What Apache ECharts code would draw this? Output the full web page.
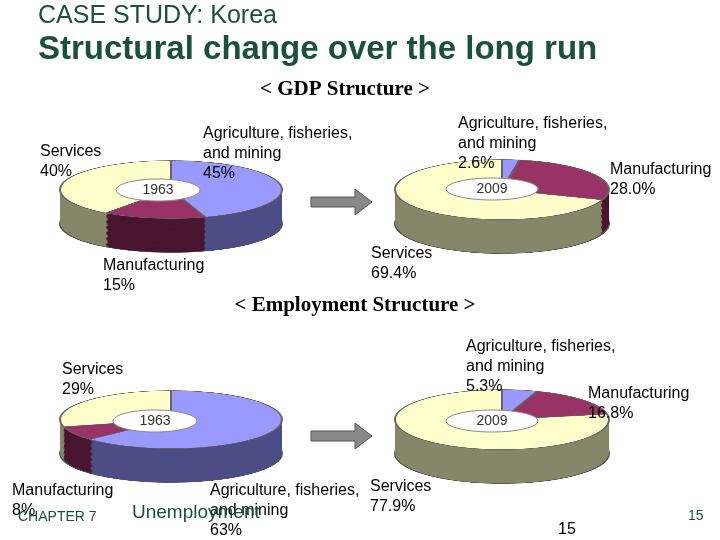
<!DOCTYPE html>
<html><head><meta charset="utf-8">
<script src="https://cdn.jsdelivr.net/npm/echarts@6/dist/echarts.min.js"></script>
<style>body{margin:0;width:720px;height:540px;overflow:hidden;background:#fff;position:relative}
#main{position:absolute;left:0;top:0;width:720px;height:540px}
.pie{position:absolute;transform-origin:0 0}</style></head><body>
<div id="main"></div>
<script>
const categories = ['Agriculture, fisheries, and mining','Manufacturing','Services'];
const gdp1963 = [45, 15, 40];
const gdp2009 = [2.6, 28.0, 69.4];
const emp1963 = [63, 8, 29];
const emp2009 = [5.3, 16.8, 77.9];
const yearLabels = ['1963','2009','1963','2009'];

const topColors = ['#9999ff','#993366','#ffffcc'];
const sideColors = ['#4d4d85','#4a1530','#86866a'];

function makePie(values, cx, cy, rx, ry, depth){
  const s = ry/rx, Dp = depth/s;
  const div = document.createElement('div');
  div.className='pie';
  const W = 2*rx+4, H = 2*rx+Dp+4;
  div.style.width=W+'px'; div.style.height=H+'px';
  div.style.left=(cx-rx-2)+'px'; div.style.top=(cy-ry-2*s)+'px';
  div.style.transform='scaleY('+s+')';
  document.body.appendChild(div);
  const ch = echarts.init(div,null,{renderer:'canvas'});
  const data = values.map((v,i)=>({name:categories[i],value:v}));
  const series=[];
  const N=28;
  for(let k=N;k>=1;k--){
    series.push({type:'pie',silent:true,animation:false,radius:[0,rx+'px'],
      center:[rx+2, rx+2+Dp*k/N],label:{show:false},labelLine:{show:false},
      itemStyle:{color:p=>sideColors[p.dataIndex],borderColor:k===N?'#555':'transparent',borderWidth:k===N?2:0},
      data:data});
  }
  series.push({type:'pie',silent:true,animation:false,radius:[0,rx+'px'],center:[rx+2,rx+2],
    label:{show:false},labelLine:{show:false},
    itemStyle:{color:p=>topColors[p.dataIndex],borderColor:'#666',borderWidth:2},data:data});
  ch.setOption({series});
}
makePie(gdp1963,171,190,111,29,34);
makePie(gdp2009,502,190,107,30,34);
makePie(emp1963,171,420,111,29,34);
makePie(emp2009,502,420,107,30,34);

const main = echarts.init(document.getElementById('main'));
const T=(x,y,t,o)=>({type:'text',x,y,z:100,style:Object.assign({text:t,fill:'#000',font:'16px "Liberation Sans", Arial',lineHeight:20},o||{})});
const yearBox=(cx,cy,t,rx)=>[{type:'ellipse',z:90,shape:{cx,cy,rx:rx,ry:11},style:{fill:'#fff',stroke:'#888',lineWidth:1}},
  T(cx,cy,t,{align:'center',verticalAlign:'middle',font:'14px "Liberation Sans", Arial',fill:'#333'})];
const arrow=(x,y)=>({type:'polygon',z:100,shape:{points:[[x,y-5],[x+44,y-5],[x+44,y-13],[x+61,y],[x+44,y+13],[x+44,y+5],[x,y+5]]},style:{fill:'#888',stroke:'#555'}});
const els=[
  T(38,6,'CASE STUDY: Korea',{font:'25px "Liberation Sans", Arial',fill:'#1d4f3f'}),
  T(38,40,'Structural change over the long run',{font:'bold 33px "Liberation Sans", Arial',fill:'#1d4f3f'}),
  T(345,80,'< GDP Structure >',{font:'bold 21px "Liberation Serif", serif',align:'center'}),
  T(355,296,'< Employment Structure >',{font:'bold 21px "Liberation Serif", serif',align:'center'}),
  ...yearBox(158,190,yearLabels[0],42),...yearBox(492,189,yearLabels[1],46),
  ...yearBox(155,421,yearLabels[2],42),...yearBox(492,421,yearLabels[3],46),
  T(40,142,'Services\n'+gdp1963[2]+'%'),
  T(203,124,'Agriculture, fisheries,\nand mining\n'+gdp1963[0]+'%'),
  T(103,256,'Manufacturing\n'+gdp1963[1]+'%'),
  T(458,114,'Agriculture, fisheries,\nand mining\n'+gdp2009[0].toFixed(1)+'%'),
  T(610,160,'Manufacturing\n'+gdp2009[1].toFixed(1)+'%'),
  T(371,244,'Services\n'+gdp2009[2].toFixed(1)+'%'),
  T(62,360,'Services\n'+emp1963[2]+'%'),
  T(12,481,'Manufacturing\n'+emp1963[1]+'%'),
  T(210,481,'Agriculture, fisheries,\nand mining\n'+emp1963[0]+'%'),
  T(466,337,'Agriculture, fisheries,\nand mining\n'+emp2009[0].toFixed(1)+'%'),
  T(588,384,'Manufacturing\n'+emp2009[1].toFixed(1)+'%'),
  T(370,477,'Services\n'+emp2009[2].toFixed(1)+'%'),
  T(18,507,'CHAPTER 7',{font:'14px "Liberation Sans", Arial',fill:'#1d4f3f'}),
  T(132,503,'Unemployment',{font:'19px "Liberation Sans", Arial',fill:'#1d4f3f'}),
  T(558,520,'15',{font:'16px "Liberation Sans", Arial'}),
  T(688,506,'15',{font:'14px "Liberation Sans", Arial',fill:'#1d4f3f'}),
  arrow(311,202), arrow(311,436)
];
main.setOption({graphic:{elements:els}});
main.getDom().style.zIndex=10;main.getDom().style.pointerEvents='none';
</script></body></html>
